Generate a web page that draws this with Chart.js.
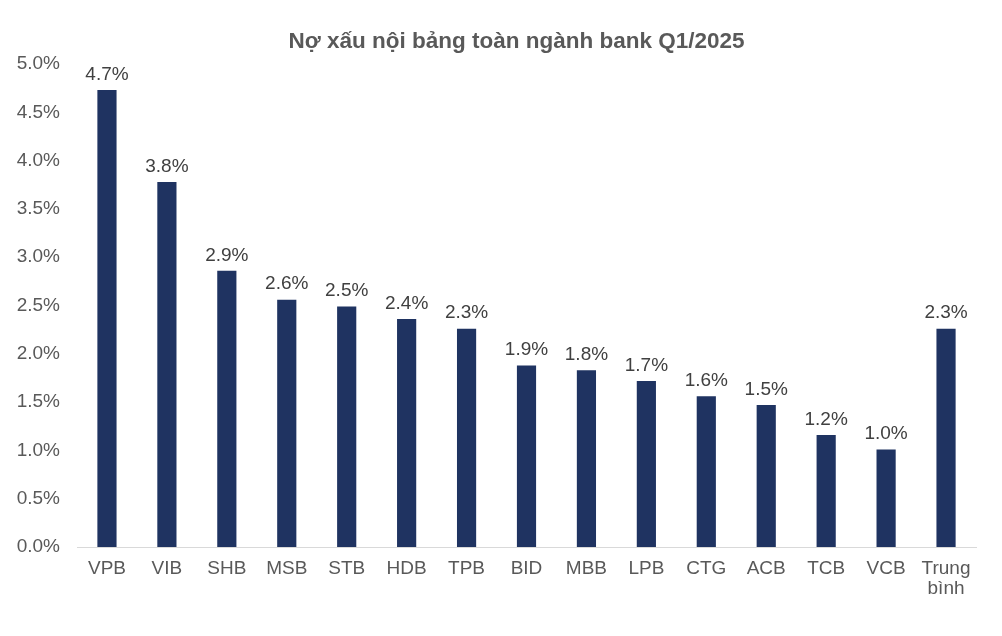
<!DOCTYPE html>
<html>
<head>
<meta charset="utf-8">
<script src="https://cdn.jsdelivr.net/npm/chart.js@4.4.0/dist/chart.umd.min.js"></script>
<style>
  html, body { margin: 0; padding: 0; background: #fff; }
  #wrap { width: 1002px; height: 636px; }
</style>
</head>
<body>
<div id="wrap"><canvas id="chartBar" width="1002" height="636"></canvas></div>
<script>
// Dữ liệu
const nganHang = ['VPB', 'VIB', 'SHB', 'MSB', 'STB', 'HDB', 'TPB', 'BID', 'MBB', 'LPB', 'CTG', 'ACB', 'TCB', 'VCB', ['Trung', 'bình']];
const noXau = [4.73, 3.78, 2.86, 2.56, 2.49, 2.36, 2.26, 1.88, 1.83, 1.72, 1.56, 1.47, 1.16, 1.01, 2.26];
const yTicks = [0, 0.5, 1, 1.5, 2, 2.5, 3, 3.5, 4, 4.5, 5];
const tieuDe = 'Nợ xấu nội bảng toàn ngành bank Q1/2025';

const FONT = "'Liberation Sans', Arial, sans-serif";

// Vẽ nhãn giá trị trên đầu cột
const nhanGiaTri = {
    id: 'nhanGiaTri',
    afterDatasetsDraw(chart) {
        const ctx = chart.ctx;
        const meta = chart.getDatasetMeta(0);
        ctx.save();
        ctx.font = '19px ' + FONT;
        ctx.fillStyle = '#404040';
        ctx.textAlign = 'center';
        ctx.textBaseline = 'bottom';
        meta.data.forEach((bar, i) => {
            ctx.fillText(noXau[i].toFixed(1) + '%', bar.x, bar.y - 6);
        });
        ctx.restore();
    }
};

// Tiêu đề lệch phải một chút so với tâm canvas (như bản gốc)
const tieuDePlugin = {
    id: 'tieuDe',
    afterDraw(chart) {
        const ctx = chart.ctx;
        const area = chart.chartArea;
        ctx.save();
        ctx.font = 'bold 22.5px ' + FONT;
        ctx.fillStyle = '#595959';
        ctx.textAlign = 'center';
        ctx.textBaseline = 'middle';
        ctx.fillText(tieuDe, (area.left + area.right) / 2 - 10, area.top - 22);
        ctx.restore();
    }
};

new Chart(document.getElementById('chartBar').getContext('2d'), {
    type: 'bar',
    data: {
        labels: nganHang,
        datasets: [{
            label: 'Nợ xấu',
            data: noXau,
            backgroundColor: '#1f3361',
            categoryPercentage: 1,
            barPercentage: 0.32
        }]
    },
    options: {
        responsive: false,
        animation: false,
        layout: { padding: { left: 15, right: 26, top: 64, bottom: 25 } },
        plugins: {
            legend: { display: false },
            tooltip: { enabled: false },
            title: { display: false }
        },
        scales: {
            x: {
                grid: { display: false, drawTicks: false },
                border: { display: true, color: '#d9d9d9', width: 1 },
                ticks: {
                    color: '#595959',
                    font: { family: FONT, size: 19, lineHeight: 1.05 },
                    padding: 12,
                    maxRotation: 0,
                    autoSkip: false
                }
            },
            y: {
                min: 0,
                max: 5,
                afterFit: (s) => { s.width = 62; },
                afterBuildTicks: (s) => { s.ticks = yTicks.map(v => ({ value: v })); },
                grid: { display: false, drawTicks: false },
                border: { display: false },
                ticks: {
                    color: '#595959',
                    font: { family: FONT, size: 19 },
                    padding: 17,
                    callback: (v) => Number(v).toFixed(1) + '%'
                }
            }
        }
    },
    plugins: [nhanGiaTri, tieuDePlugin]
});
</script>
</body>
</html>
